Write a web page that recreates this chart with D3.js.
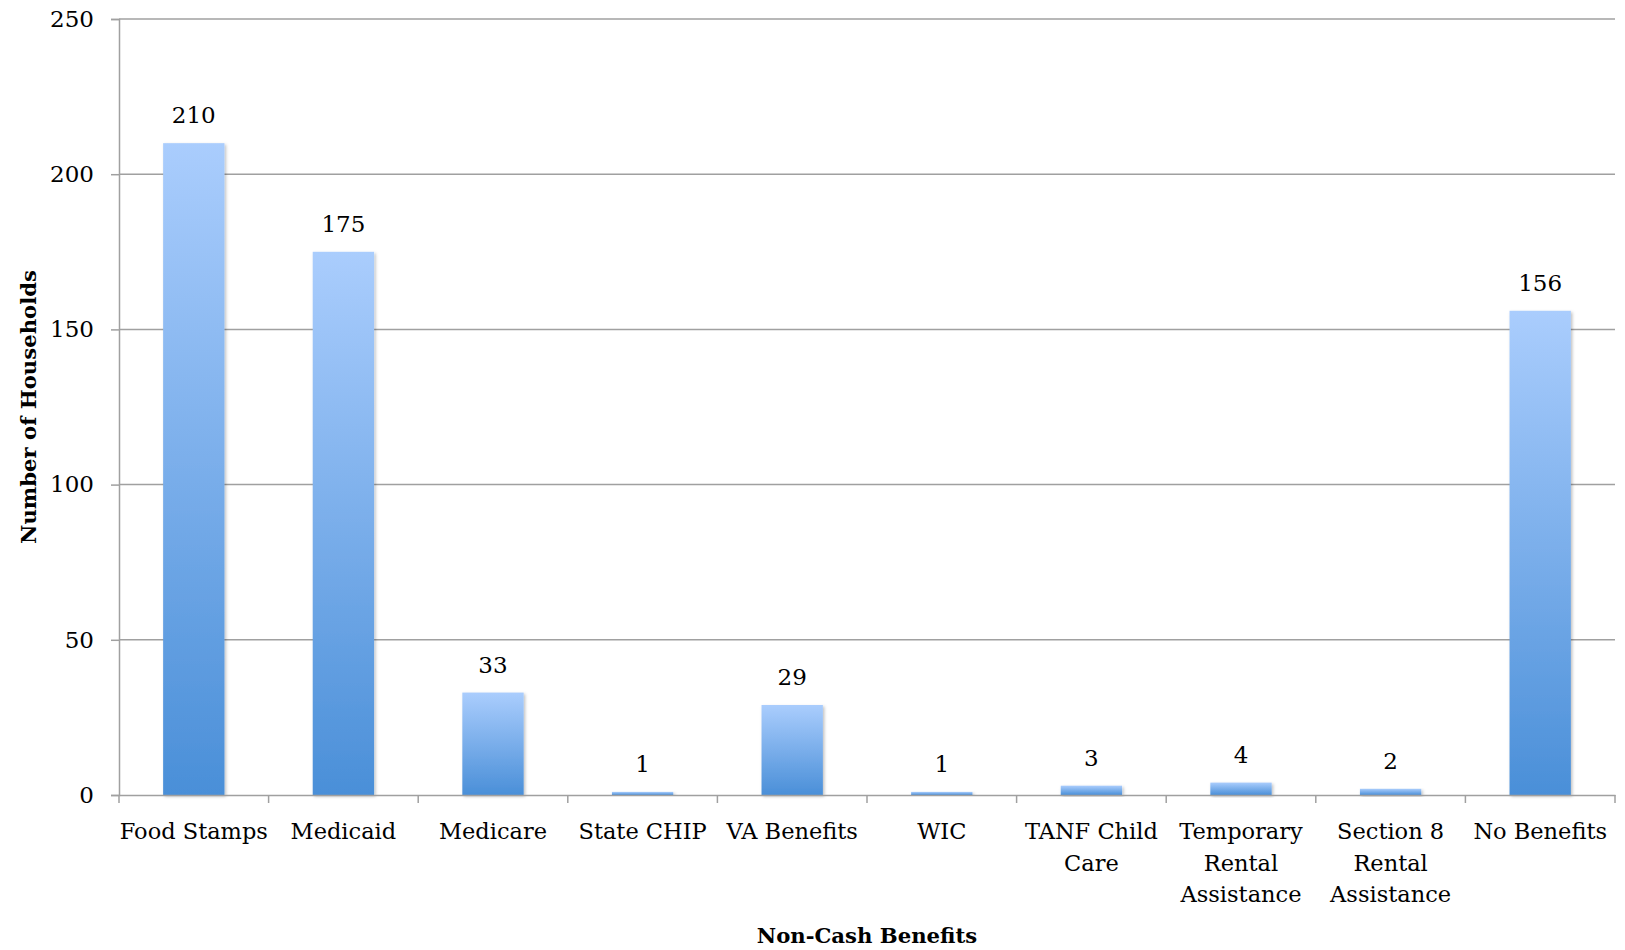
<!DOCTYPE html>
<html><head><meta charset="utf-8">
<script src="https://cdn.jsdelivr.net/npm/d3@7"></script>
<style>body{margin:0;background:#fff}svg{display:block}</style>
</head><body>
<svg id="c" width="1625" height="950"></svg>
<script>
const categories = ["Food Stamps","Medicaid","Medicare","State CHIP","VA Benefits","WIC","TANF Child Care","Temporary Rental Assistance","Section 8 Rental Assistance","No Benefits"];
const labelLines = [["Food Stamps"],["Medicaid"],["Medicare"],["State CHIP"],["VA Benefits"],["WIC"],["TANF Child","Care"],["Temporary","Rental","Assistance"],["Section 8","Rental","Assistance"],["No Benefits"]];
const values = [210,175,33,1,29,1,3,4,2,156];
const yTicks = [0,50,100,150,200,250];

const font = "'DejaVu Serif', serif";
const svg = d3.select("#c");
const m = {l:119, r:1615, t:19, b:795};
const x = d3.scaleBand().domain(categories).range([m.l, m.r]).paddingInner(0.59).paddingOuter(0.295);
const y = d3.scaleLinear().domain([0,250]).range([m.b, m.t]);

const defs = svg.append("defs");
const g = defs.append("linearGradient").attr("id","bg").attr("x1",0).attr("y1",0).attr("x2",0).attr("y2",1);
g.append("stop").attr("offset","0%").attr("stop-color","#aacdfd");
g.append("stop").attr("offset","100%").attr("stop-color","#4a8fd8");
const f = defs.append("filter").attr("id","sh").attr("x","-10%").attr("y","-10%").attr("width","130%").attr("height","130%");
f.append("feDropShadow").attr("dx",1.5).attr("dy",1.5).attr("stdDeviation",1.5).attr("flood-color","#000").attr("flood-opacity",0.25);

// gridlines
svg.append("g").selectAll("line").data(yTicks.filter(d=>d>0)).join("line")
  .attr("x1",m.l).attr("x2",m.r).attr("y1",d=>y(d)).attr("y2",d=>y(d))
  .attr("stroke","#a0a0a0").attr("stroke-width",1.5);

// y axis
const ya = svg.append("g").attr("transform",`translate(${m.l},0)`)
  .call(d3.axisLeft(y).tickValues(yTicks).tickSize(8).tickPadding(17));
ya.select(".domain").attr("stroke","#a0a0a0").attr("stroke-width",1.5);
ya.selectAll(".tick line").attr("stroke","#a0a0a0").attr("stroke-width",1.5);
ya.selectAll("text").attr("font-family",font).attr("font-size",23).attr("fill","#000");

// bars
svg.append("g").selectAll("rect").data(values).join("rect")
  .attr("x",(d,i)=>x(categories[i])).attr("width",x.bandwidth())
  .attr("y",d=>y(d)).attr("height",d=>y(0)-y(d))
  .attr("fill","url(#bg)").attr("filter","url(#sh)");

// x axis
const xa = svg.append("g").attr("transform",`translate(0,${m.b})`)
  .call(d3.axisBottom(x).tickSize(0).tickFormat(""));
xa.select(".domain").attr("stroke","#a0a0a0").attr("stroke-width",1.5);
const step = x.step();
svg.append("g").selectAll("line").data(d3.range(categories.length+1)).join("line")
  .attr("x1",i=>m.l+i*step).attr("x2",i=>m.l+i*step).attr("y1",m.b).attr("y2",m.b+8)
  .attr("stroke","#a0a0a0").attr("stroke-width",1.5);

// category labels
const lab = svg.append("g").selectAll("text").data(labelLines).join("text")
  .attr("font-family",font).attr("font-size",22.5).attr("text-anchor","middle").attr("fill","#000");
lab.each(function(lines,i){
  const t = d3.select(this);
  lines.forEach((s,j)=>t.append("tspan").attr("x",x(categories[i])+x.bandwidth()/2).attr("y",839+j*31.7).text(s));
});

// value labels
svg.append("g").selectAll("text").data(values).join("text")
  .attr("x",(d,i)=>x(categories[i])+x.bandwidth()/2).attr("y",d=>y(d)-20)
  .attr("text-anchor","middle").attr("font-family",font).attr("font-size",23).attr("fill","#000")
  .text(d=>d);

// axis titles
svg.append("text").attr("x",(m.l+m.r)/2).attr("y",943).attr("text-anchor","middle")
  .attr("font-family",font).attr("font-weight","bold").attr("font-size",21.2).text("Non-Cash Benefits");
svg.append("text").attr("transform",`translate(36,${(m.t+m.b)/2}) rotate(-90)`).attr("text-anchor","middle")
  .attr("font-family",font).attr("font-weight","bold").attr("font-size",21.2).text("Number of Households");
</script>
</body></html>
